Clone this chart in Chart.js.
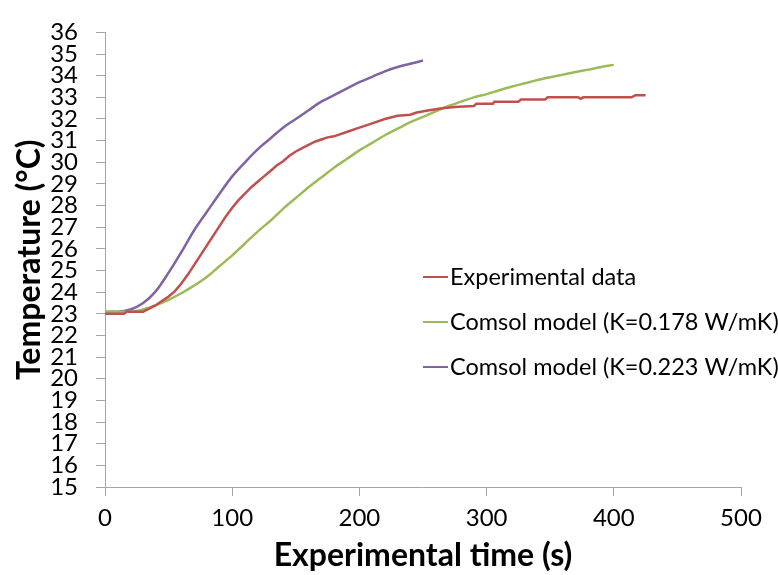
<!DOCTYPE html>
<html>
<head>
<meta charset="utf-8">
<script src="https://cdn.jsdelivr.net/npm/chart.js@4"></script>
<style>
  html, body { margin: 0; padding: 0; background: #fff; }
  #wrap { width: 778px; height: 575px; position: relative; }
</style>
</head>
<body>
<div id="wrap"><canvas id="myChart" width="778" height="575"></canvas></div>
<script>
// experimental data (s, °C)
const expTime = [0, 5, 10, 15, 17, 30, 35, 40, 45, 50, 55, 60, 65, 70, 75, 80, 85, 90, 95, 100,
  105, 110, 115, 120, 125, 130, 135, 140, 145, 150, 155, 160, 165, 170, 175, 180, 190, 200, 210, 220,
  230, 240, 245, 255, 265, 275, 290, 292, 305, 306, 325, 327, 346, 348, 372, 374, 376, 414, 417, 425]
const expTemp = [23.0, 23.0, 23.0, 23.0, 23.1, 23.1, 23.25, 23.4, 23.6, 23.8, 24.05, 24.4, 24.8, 25.25, 25.7, 26.15, 26.6, 27.05, 27.5, 27.9,
  28.25, 28.55, 28.85, 29.1, 29.35, 29.6, 29.85, 30.05, 30.3, 30.5, 30.65, 30.8, 30.95, 31.05, 31.15, 31.2, 31.4, 31.6, 31.8, 32.0,
  32.15, 32.2, 32.3, 32.4, 32.5, 32.55, 32.6, 32.7, 32.7, 32.8, 32.8, 32.9, 32.9, 33.0, 33.0, 32.93, 33.0, 33.0, 33.1, 33.1]

// comsol K=0.178
const model1Time = [0, 10, 20, 30, 40, 50, 60, 70, 80, 90, 100, 110, 120, 130, 140, 150, 160, 170, 180, 190, 200,
  210, 220, 230, 240, 250, 260, 270, 280, 290, 300, 310, 320, 330, 340, 350, 360, 370, 380, 390, 400]
const model1Temp = [23.1, 23.1, 23.1, 23.2, 23.4, 23.65, 23.95, 24.3, 24.7, 25.2, 25.7, 26.25, 26.8, 27.3, 27.85, 28.35, 28.85, 29.3, 29.75, 30.15, 30.55,
  30.9, 31.25, 31.55, 31.85, 32.1, 32.35, 32.6, 32.8, 33.0, 33.15, 33.33, 33.5, 33.65, 33.8, 33.93, 34.05, 34.17, 34.28, 34.4, 34.5]

// comsol K=0.223
const model2Time = [0, 10, 20, 30, 40, 50, 60, 70, 80, 90, 100, 110, 120, 130, 140, 150, 160, 170, 180, 190, 200,
  210, 220, 230, 240, 250]
const model2Temp = [23.1, 23.1, 23.2, 23.5, 24.05, 24.9, 25.85, 26.85, 27.7, 28.55, 29.35, 30.0, 30.6, 31.1, 31.6, 32.0, 32.4, 32.8, 33.1, 33.4, 33.7,
  33.95, 34.2, 34.4, 34.55, 34.7]

const seriesNames = ['Experimental data', 'Comsol model (K=0.178 W/mK)', 'Comsol model (K=0.223 W/mK)']
const seriesColors = ['#C0504D', '#9BBB59', '#8064A2']

const xTicks = [0, 100, 200, 300, 400, 500]

function pts(xs, ys) {
  return xs.map((x, i) => ({ x: x, y: ys[i] }))
}

const FONT = "Lato, 'Open Sans', sans-serif"
const axisColor = '#a6a6a6'

// legend drawn inside the plot, like the excel original
const innerLegend = {
  id: 'innerLegend',
  afterDraw(chart, args, opts) {
    const ctx = chart.ctx
    ctx.save()
    ctx.font = opts.size + 'px ' + FONT
    ctx.textBaseline = 'middle'
    chart.data.datasets.forEach((ds, i) => {
      const y = opts.y + i * opts.gap
      ctx.strokeStyle = ds.borderColor
      ctx.lineWidth = 2
      ctx.beginPath()
      ctx.moveTo(opts.x, y)
      ctx.lineTo(opts.x + opts.lineLen, y)
      ctx.stroke()
      ctx.fillStyle = '#000'
      ctx.fillText(ds.label, opts.x + opts.lineLen + 2, y)
    })
    ctx.restore()
  }
}

const ctx = document.getElementById('myChart').getContext('2d')
const myChart = new Chart(ctx, {
  type: 'line',
  data: {
    datasets: [
      { label: seriesNames[0], data: pts(expTime, expTemp), borderColor: seriesColors[0], borderWidth: 2.5, pointRadius: 0, tension: 0 },
      { label: seriesNames[1], data: pts(model1Time, model1Temp), borderColor: seriesColors[1], borderWidth: 2.5, pointRadius: 0, cubicInterpolationMode: 'monotone' },
      { label: seriesNames[2], data: pts(model2Time, model2Temp), borderColor: seriesColors[2], borderWidth: 2.5, pointRadius: 0, cubicInterpolationMode: 'monotone' }
    ]
  },
  options: {
    responsive: false,
    animation: false,
    layout: { padding: { top: 15, right: 37, left: 0, bottom: 0 } },
    plugins: {
      legend: { display: false },
      tooltip: { enabled: false },
      innerLegend: { x: 423, y: 277, gap: 45, lineLen: 25, size: 23.5 }
    },
    scales: {
      x: {
        type: 'linear',
        min: 0, max: 500,
        afterBuildTicks: axis => { axis.ticks = xTicks.map(v => ({ value: v })) },
        afterFit: axis => { axis.height = 88 },
        grid: { drawOnChartArea: false, drawTicks: true, tickLength: 9, color: axisColor },
        border: { color: axisColor, width: 1 },
        ticks: { color: '#000', font: { family: FONT, size: 24 }, padding: 8, maxRotation: 0 },
        title: { display: true, text: 'Experimental time (s)', color: '#000', font: { family: FONT, size: 32, weight: 'bold' }, padding: { top: 0, bottom: 0 } }
      },
      y: {
        min: 15, max: 36,
        ticks: { stepSize: 1, color: '#000', font: { family: FONT, size: 24 }, padding: 18, autoSkip: false },
        afterFit: axis => { axis.width = 105 },
        grid: { drawOnChartArea: false, drawTicks: true, tickLength: 9, color: axisColor },
        border: { color: axisColor, width: 1 },
        title: { display: true, text: 'Temperature (°C)', color: '#000', font: { family: FONT, size: 32, weight: 'bold' }, padding: { top: 10, bottom: 0 } }
      }
    }
  },
  plugins: [innerLegend]
})
</script>
</body>
</html>
